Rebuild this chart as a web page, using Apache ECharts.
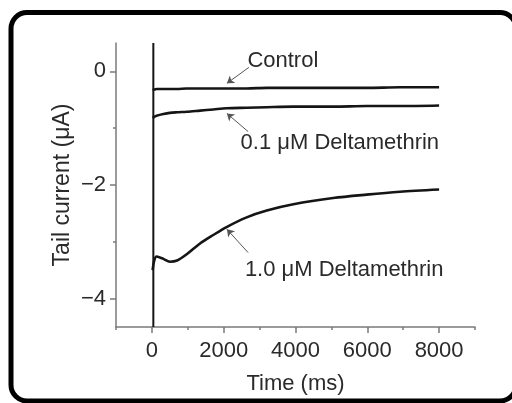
<!DOCTYPE html>
<html>
<head>
<meta charset="utf-8">
<script src="https://cdn.jsdelivr.net/npm/echarts@6/dist/echarts.min.js"></script>
<style>
html,body{margin:0;padding:0;background:#fff;}
#chart{width:512px;height:403px;}
</style>
</head>
<body>
<div id="chart"></div>
<script>
// ---- data ----
const seriesNames = ["Control", "0.1 μM Deltamethrin", "1.0 μM Deltamethrin"];
const times = [20, 65, 130, 320, 500, 700, 970, 1340, 1710, 2080, 2640, 3200, 3940, 5050, 5980, 6910, 8000];
const control = [-0.33, -0.32, -0.31, -0.31, -0.31, -0.31, -0.30, -0.30, -0.30, -0.30, -0.30, -0.29, -0.29, -0.29, -0.29, -0.28, -0.28];
const delta01 = [-0.82, -0.80, -0.78, -0.75, -0.73, -0.72, -0.71, -0.69, -0.67, -0.65, -0.64, -0.63, -0.62, -0.62, -0.61, -0.61, -0.60];
const delta10 = [-3.50, -3.33, -3.26, -3.30, -3.35, -3.33, -3.22, -3.03, -2.88, -2.74, -2.57, -2.45, -2.34, -2.23, -2.17, -2.12, -2.08];
const transientTimes = [40, 40];
const transientValues = [0.5, -4.5];
const xTickLabels = [0, 2000, 4000, 6000, 8000];
const yTickLabels = [-4, -2, 0];
// annotation anchor points (data units): text anchor, arrow start, arrow tip
const annoText = [[2660, 0.18], [2470, -1.26], [2590, -3.49]];
const annoFrom = [[2700, 0.07], [2680, -1.06], [2680, -3.19]];
const annoTo = [[2090, -0.21], [2090, -0.74], [2090, -2.78]];

const FONT = "'Liberation Sans', Arial, sans-serif";
const TXT = '#2a2a2a';
const LINE = '#151515';
const AXIS = '#7a7a7a';

function pairs(xs, ys) { return xs.map((x, i) => [x, ys[i]]); }

const chart = echarts.init(document.getElementById('chart'), null, {renderer: 'canvas'});

const valuesList = [control, delta01, delta10];
const series = valuesList.map((vals, i) => ({
  name: seriesNames[i],
  type: 'line',
  xAxisIndex: 0, yAxisIndex: 0,
  data: pairs(times, vals),
  smooth: 0.3,
  showSymbol: false,
  lineStyle: {color: LINE, width: 2.6},
  z: 3,
  markLine: {
    silent: true,
    symbol: ['none', 'arrow'],
    symbolSize: 7,
    label: {show: false},
    lineStyle: {color: '#555', width: 1, type: 'solid'},
    data: [[{coord: annoFrom[i]}, {coord: annoTo[i]}]]
  },
  markPoint: {
    silent: true,
    symbol: 'circle',
    symbolSize: 0,
    data: [{coord: annoText[i], name: seriesNames[i]}],
    label: {
      show: true, position: 'right', distance: 0,
      formatter: '{b}',
      fontFamily: FONT, fontSize: 22, color: TXT
    }
  }
}));
series.push({
  name: 'transient',
  type: 'line',
  xAxisIndex: 0, yAxisIndex: 0,
  data: pairs(transientTimes, transientValues),
  showSymbol: false,
  lineStyle: {color: LINE, width: 2},
  z: 2
});

const minus = v => (v < 0 ? '\u2212' + Math.abs(v) : String(v));

chart.setOption({
  animation: false,
  backgroundColor: '#fff',
  grid: {left: 116, right: 37, top: 43, bottom: 76, containLabel: false},
  xAxis: [{
    type: 'value', min: -1000, max: 9000, interval: 1000,
    name: 'Time (ms)', nameLocation: 'middle', nameGap: 46, nameMoveOverlap: false,
    nameTextStyle: {fontFamily: FONT, fontSize: 22, color: TXT},
    axisLine: {show: true, onZero: false, lineStyle: {color: AXIS, width: 1.5}},
    axisTick: {show: true, inside: false, length: 3, lineStyle: {color: AXIS, width: 1.5}},
    axisLabel: {
      customValues: xTickLabels, margin: 13,
      fontFamily: FONT, fontSize: 22, color: TXT,
      formatter: v => String(v)
    },
    splitLine: {show: false}
  }, {
    type: 'value', min: -1000, max: 9000, position: 'bottom', gridIndex: 0,
    axisLine: {show: false, onZero: false},
    axisTick: {show: true, customValues: xTickLabels, length: 6, lineStyle: {color: AXIS, width: 1.5}},
    axisLabel: {show: false},
    splitLine: {show: false}
  }],
  yAxis: [{
    type: 'value', min: -4.5, max: 0.5,
    name: 'Tail current (μA)', nameLocation: 'middle', nameGap: 42, nameRotate: 90, nameMoveOverlap: false,
    nameTextStyle: {fontFamily: FONT, fontSize: 23, color: TXT},
    axisLine: {show: true, onZero: false, lineStyle: {color: AXIS, width: 1.5}},
    axisTick: {show: true, customValues: [-4, -3, -2, -1, 0], length: 3, lineStyle: {color: AXIS, width: 1.5}},
    axisLabel: {
      customValues: yTickLabels, margin: 10,
      fontFamily: FONT, fontSize: 22, color: TXT,
      formatter: minus
    },
    splitLine: {show: false}
  }, {
    type: 'value', min: -4.5, max: 0.5, position: 'left', gridIndex: 0,
    axisLine: {show: false, onZero: false},
    axisTick: {show: true, customValues: yTickLabels, length: 6, lineStyle: {color: AXIS, width: 1.5}},
    axisLabel: {show: false},
    splitLine: {show: false}
  }],
  graphic: [{
    type: 'rect',
    shape: {x: 11, y: 12.5, width: 505, height: 388.5, r: 16},
    style: {fill: 'none', stroke: '#000', lineWidth: 5},
    silent: true,
    z: 10
  }],
  series: series
});
</script>
</body>
</html>
